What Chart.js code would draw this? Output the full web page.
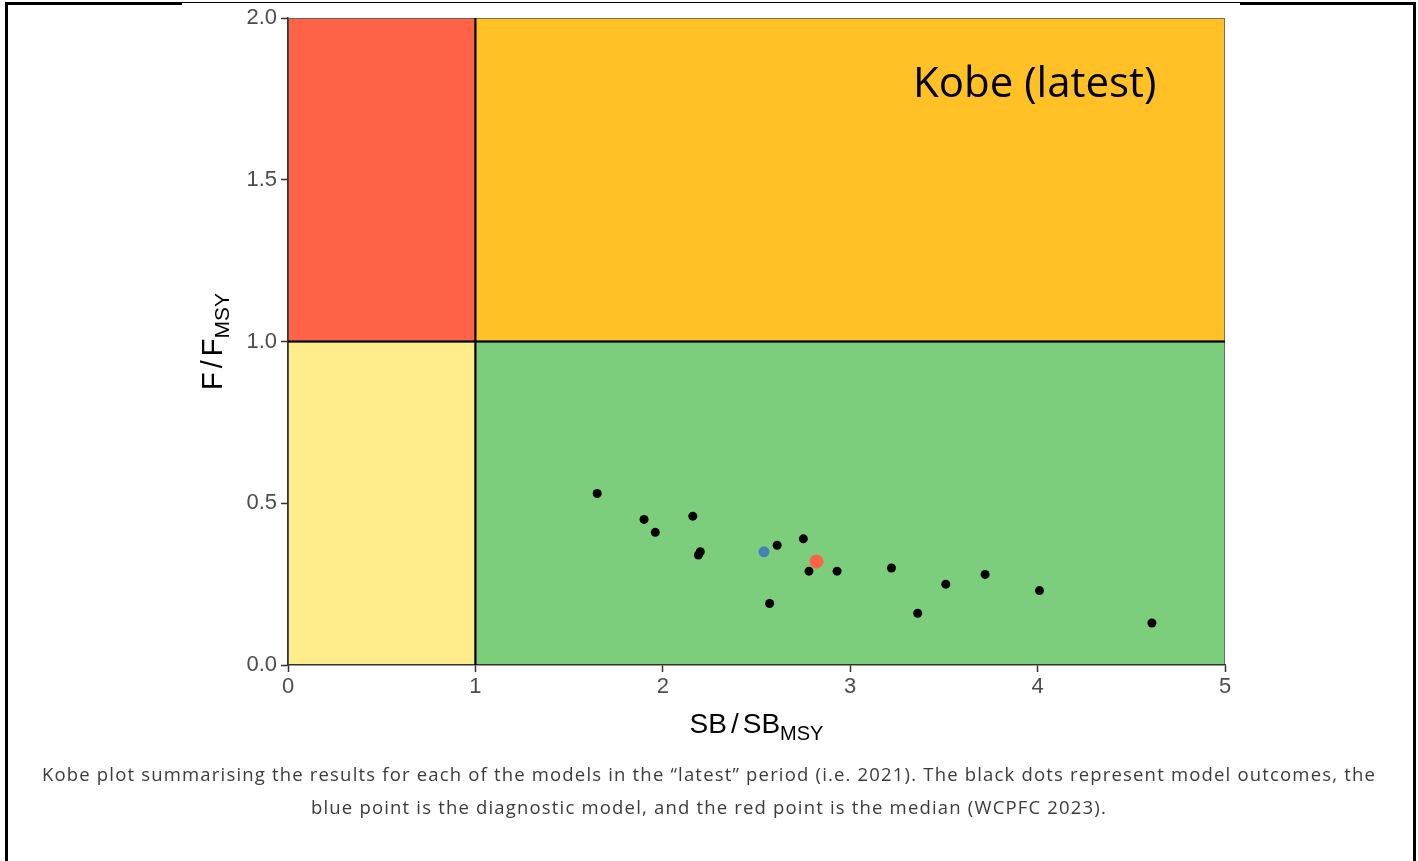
<!DOCTYPE html>
<html>
<head>
<meta charset="utf-8">
<script src="https://cdn.jsdelivr.net/npm/chart.js@4/dist/chart.umd.min.js"></script>
<style>
  body { margin: 0; width: 1418px; height: 861px; background: #fff; overflow: hidden; position: relative; }
  #frame { position: absolute; left: 5px; top: 2px; width: 1411px; height: 900px; border: 3px solid #000; box-sizing: border-box; }
  #thinTop { position: absolute; left: 182px; top: 2px; width: 1058px; height: 3px; background: #fff; border-top: 1px solid #000; box-sizing: border-box; }
  #wrap { position: absolute; left: 0; top: 0; width: 1418px; height: 760px; }
  #caption { position: absolute; left: 0; top: 757px; width: 1418px; text-align: center;
             font-family: "Open Sans", sans-serif; font-size: 18.5px; line-height: 33px; color: #3b3b3b; white-space: nowrap; }
</style>
</head>
<body>
<div id="frame"></div>
<div id="thinTop"></div>
<div id="wrap"><canvas id="kobe" width="1418" height="760"></canvas></div>
<div id="caption"><span id="l1">Kobe plot summarising the results for each of the models in the “latest” period (i.e. 2021). The black dots represent model outcomes, the</span><br><span id="l2">blue point is the diagnostic model, and the red point is the median (WCPFC 2023).</span></div>
<script>
// model outcomes (black dots)
const modelSB = [1.65, 1.90, 1.96, 2.16, 2.19, 2.20, 2.57, 2.61, 2.75, 2.78, 2.93, 3.22, 3.36, 3.51, 3.72, 4.01, 4.61];
const modelF  = [0.53, 0.45, 0.41, 0.46, 0.34, 0.35, 0.19, 0.37, 0.39, 0.29, 0.29, 0.30, 0.16, 0.25, 0.28, 0.23, 0.13];
// diagnostic model (blue) and median (red)
const diagSB = [2.54], diagF = [0.35];
const medianSB = [2.82], medianF = [0.32];

const xTicks = [0, 1, 2, 3, 4, 5];
const yTicks = [0, 0.5, 1, 1.5, 2];
const refSB = 1, refF = 1;

const toPts = (xs, ys) => xs.map((x, i) => ({x: x, y: ys[i]}));

// coloured quadrants behind everything
const quadrants = {
  id: 'quadrants',
  beforeDraw(chart) {
    const {ctx, scales: {x, y}} = chart;
    const x0 = x.getPixelForValue(x.min), x1 = x.getPixelForValue(refSB), x2 = x.getPixelForValue(x.max);
    const y0 = y.getPixelForValue(y.min), y1 = y.getPixelForValue(refF), y2 = y.getPixelForValue(y.max);
    const rects = [
      [x0, y2, x1, y1, '#FF6347'],
      [x1, y2, x2, y1, '#FFC125'],
      [x0, y1, x1, y0, '#FFEC8B'],
      [x1, y1, x2, y0, '#7CCD7C']
    ];
    ctx.save();
    rects.forEach(r => {
      ctx.fillStyle = r[4];
      ctx.fillRect(r[0], r[1], r[2] - r[0], r[3] - r[1]);
      ctx.strokeStyle = 'rgba(90,90,90,0.8)';
      ctx.lineWidth = 1;
      ctx.strokeRect(r[0] + 0.5, r[1] + 0.5, r[2] - r[0] - 1, r[3] - r[1] - 1);
    });
    ctx.restore();
  },
  beforeDatasetsDraw(chart) {
    const {ctx, scales: {x, y}} = chart;
    ctx.save();
    ctx.strokeStyle = '#000';
    ctx.lineWidth = 2;
    ctx.beginPath();
    ctx.moveTo(x.getPixelForValue(refSB), y.getPixelForValue(y.min));
    ctx.lineTo(x.getPixelForValue(refSB), y.getPixelForValue(y.max));
    ctx.moveTo(x.getPixelForValue(x.min), y.getPixelForValue(refF));
    ctx.lineTo(x.getPixelForValue(x.max), y.getPixelForValue(refF));
    ctx.stroke();
    ctx.restore();
  }
};

// axis titles with subscripts, and the panel label
function drawSub(ctx, parts, size, subSize) {
  // parts: [text, isSub, gapAfter]
  let w = 0;
  parts.forEach(p => { ctx.font = (p[1] ? subSize : size) + 'px "Liberation Sans", Arial, sans-serif'; w += ctx.measureText(p[0]).width + (p[2] || 0); });
  let cx = -w / 2;
  parts.forEach(p => {
    ctx.font = (p[1] ? subSize : size) + 'px "Liberation Sans", Arial, sans-serif';
    ctx.fillText(p[0], cx, p[1] ? size * 0.25 : 0);
    cx += ctx.measureText(p[0]).width + (p[2] || 0);
  });
}

const titles = {
  id: 'titles',
  afterDraw(chart) {
    const {ctx, chartArea: a} = chart;
    ctx.save();
    ctx.fillStyle = '#000';
    ctx.textBaseline = 'alphabetic';
    ctx.textAlign = 'left';
    ctx.save();
    ctx.translate((a.left + a.right) / 2, 733);
    drawSub(ctx, [['SB', false, 4], ['/', false, 4], ['SB', false, 0], ['MSY', true, 0]], 28, 20);
    ctx.restore();
    ctx.save();
    ctx.translate(222, (a.top + a.bottom) / 2);
    ctx.rotate(-Math.PI / 2);
    drawSub(ctx, [['F', false, 4], ['/', false, 4], ['F', false, 0], ['MSY', true, 0]], 29, 21);
    ctx.restore();
    ctx.font = '42px "Open Sans", sans-serif';
    ctx.fillText('Kobe (latest)', 913, 97);
    ctx.restore();
  }
};

const tickFont = {family: '"Liberation Sans", Arial, sans-serif', size: 22};

new Chart(document.getElementById('kobe'), {
  type: 'scatter',
  data: {
    datasets: [
      {label: 'Models', data: toPts(modelSB, modelF), backgroundColor: '#000', borderWidth: 0, pointRadius: 4.5, pointHoverRadius: 4.5},
      {label: 'Diagnostic', data: toPts(diagSB, diagF), backgroundColor: '#4682B4', borderWidth: 0, pointRadius: 5.5, pointHoverRadius: 5.5},
      {label: 'Median', data: toPts(medianSB, medianF), backgroundColor: '#FF6347', borderWidth: 0, pointRadius: 7, pointHoverRadius: 7}
    ]
  },
  options: {
    responsive: false,
    animation: false,
    devicePixelRatio: 1,
    layout: {padding: {left: 0, right: 193, top: 18, bottom: 0}},
    plugins: {legend: {display: false}, tooltip: {enabled: false}},
    scales: {
      x: {
        type: 'linear', min: 0, max: 5,
        afterBuildTicks: s => { s.ticks = xTicks.map(v => ({value: v})); },
        afterFit: s => { s.height = 95; },
        ticks: {color: '#4d4d4d', font: tickFont, padding: 2, callback: v => String(v)},
        grid: {drawOnChartArea: false, tickLength: 7, color: '#333', tickWidth: 1.5},
        border: {color: '#333', width: 1.5}
      },
      y: {
        type: 'linear', min: 0, max: 2,
        afterBuildTicks: s => { s.ticks = yTicks.map(v => ({value: v})); },
        afterFit: s => { s.width = 288; },
        ticks: {color: '#4d4d4d', font: tickFont, padding: 4, callback: v => v.toFixed(1)},
        grid: {drawOnChartArea: false, tickLength: 7, color: '#333', tickWidth: 1.5},
        border: {color: '#333', width: 1.5}
      }
    }
  },
  plugins: [quadrants, titles]
});

// stretch the caption's first line to its width in the picture
(function () {
  const l1 = document.getElementById('l1'), l2 = document.getElementById('l2');
  const target = 1334;
  const w = l1.getBoundingClientRect().width;
  const n = l1.textContent.length;
  const ls = (target - w) / n;
  l1.style.letterSpacing = ls + 'px';
  l2.style.letterSpacing = ls + 'px';
})();
</script>
</body>
</html>
